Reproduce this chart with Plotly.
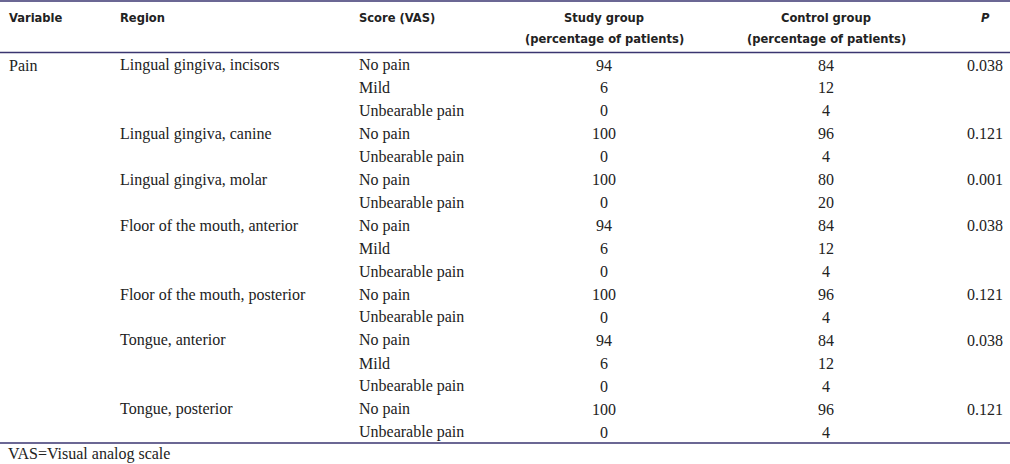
import plotly.graph_objects as go

# ---- data ----
variables = ["Pain"]
regions = [
    "Lingual gingiva, incisors",
    "Lingual gingiva, canine",
    "Lingual gingiva, molar",
    "Floor of the mouth, anterior",
    "Floor of the mouth, posterior",
    "Tongue, anterior",
    "Tongue, posterior",
]
region_scores = [
    ["No pain", "Mild", "Unbearable pain"],
    ["No pain", "Unbearable pain"],
    ["No pain", "Unbearable pain"],
    ["No pain", "Mild", "Unbearable pain"],
    ["No pain", "Unbearable pain"],
    ["No pain", "Mild", "Unbearable pain"],
    ["No pain", "Unbearable pain"],
]
study_group = [94, 6, 0, 100, 0, 100, 0, 94, 6, 0, 100, 0, 94, 6, 0, 100, 0]
control_group = [84, 12, 4, 96, 4, 80, 20, 84, 12, 4, 96, 4, 84, 12, 4, 96, 4]
p_values = ["0.038", "0.121", "0.001", "0.038", "0.121", "0.038", "0.121"]
headers = ["Variable", "Region", "Score (VAS)",
           "Study group<br>(percentage of patients)",
           "Control group<br>(percentage of patients)", "<i>P</i>"]
footnote = "VAS=Visual analog scale"

# ---- layout constants ----
W, H = 1010, 464
LINE = "#3a3570"
HEAD_FONT = dict(family="DejaVu Sans Condensed, Liberation Sans Narrow, sans-serif",
                 size=12.8, color="#222222")
BODY_FONT = dict(family="Liberation Serif, Times New Roman, serif", size=16, color="#222222")
X_VAR, X_REG, X_SCORE, X_STUDY, X_CTRL, X_P = 7, 118, 357, 604, 826, 985
Y0, DY = 65, 22.95
HEAD_Y = [17, 38.5]

fig = go.Figure()
ann = []

# header (each line placed separately to match the wide line spacing)
head_x = [X_VAR, X_REG, X_SCORE, X_STUDY, X_CTRL, X_P]
head_anchor = ["left", "left", "left", "center", "center", "center"]
for h, x, a in zip(headers, head_x, head_anchor):
    for li, part in enumerate(h.split("<br>")):
        ann.append(dict(x=x, y=HEAD_Y[li], text="<b>" + part + "</b>", xanchor=a,
                        yanchor="middle", showarrow=False, font=HEAD_FONT))

# body
row = 0
for ri, (reg, scores) in enumerate(zip(regions, region_scores)):
    for si, sc in enumerate(scores):
        y = Y0 + row * DY
        if row == 0:
            ann.append(dict(x=X_VAR, y=y, text=variables[0], xanchor="left", yanchor="middle",
                            showarrow=False, font=BODY_FONT))
        if si == 0:
            ann.append(dict(x=X_REG, y=y, text=reg, xanchor="left", yanchor="middle",
                            showarrow=False, font=BODY_FONT))
            ann.append(dict(x=X_P, y=y, text=p_values[ri], xanchor="center", yanchor="middle",
                            showarrow=False, font=BODY_FONT))
        ann.append(dict(x=X_SCORE, y=y, text=sc, xanchor="left", yanchor="middle",
                        showarrow=False, font=BODY_FONT))
        ann.append(dict(x=X_STUDY, y=y, text=str(study_group[row]), xanchor="center",
                        yanchor="middle", showarrow=False, font=BODY_FONT))
        ann.append(dict(x=X_CTRL, y=y, text=str(control_group[row]), xanchor="center",
                        yanchor="middle", showarrow=False, font=BODY_FONT))
        row += 1

ann.append(dict(x=X_VAR - 1, y=454, text=footnote, xanchor="left", yanchor="middle",
                showarrow=False, font=BODY_FONT))

shapes = [
    dict(type="line", x0=0, x1=W, y0=1, y1=1, line=dict(color=LINE, width=1.5)),
    dict(type="line", x0=0, x1=W, y0=52.5, y1=52.5, line=dict(color=LINE, width=1.5)),
    dict(type="line", x0=0, x1=W, y0=443, y1=443, line=dict(color=LINE, width=1.5)),
]
for s in shapes:
    s.update(xref="x", yref="y")

fig.update_layout(
    width=W, height=H, margin=dict(l=0, r=0, t=0, b=0),
    paper_bgcolor="white", plot_bgcolor="white",
    xaxis=dict(range=[0, W], visible=False, fixedrange=True),
    yaxis=dict(range=[H, 0], visible=False, fixedrange=True),
    annotations=ann, shapes=shapes, showlegend=False,
)
fig.write_html(
    "out.html",
    config={"displayModeBar": False},
    post_script="document.body.style.margin='0';document.body.style.overflow='hidden';",
)
